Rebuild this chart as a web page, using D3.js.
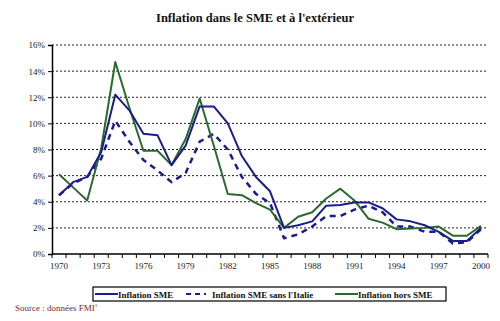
<!DOCTYPE html>
<html>
<head>
<meta charset="utf-8">
<script src="https://cdn.jsdelivr.net/npm/d3@7"></script>
<style>
html,body{margin:0;padding:0;background:#fff;}
svg{display:block;font-family:"Liberation Serif","DejaVu Serif",serif;}
</style>
</head>
<body>
<svg id="chart" width="500" height="321"></svg>
<script>
const years = d3.range(1970, 2001);
const tickYears = [1970,1973,1976,1979,1982,1985,1988,1991,1994,1997,2000];
const yTicks = [0,2,4,6,8,10,12,14,16];
const seriesNames = ["Inflation SME","Inflation SME sans l'Italie","Inflation hors SME"];
const inflationSME = [4.5,5.5,5.9,7.8,12.2,11.0,9.2,9.1,6.8,8.3, 11.3,11.3,10.0,7.5,5.9,4.8,2.0,2.2,2.5,3.7, 3.75,3.95,3.95,3.5,2.65,2.5,2.2,1.7,1.0,1.0, 2.0];
const inflationSansItalie = [4.5,5.4,5.9,7.3,10.2,8.6,7.2,6.4,5.5,6.2, 8.6,9.2,8.0,5.9,4.6,3.9,1.2,1.5,2.1,2.9, 2.9,3.4,3.7,3.2,2.1,2.1,1.7,1.7,0.8,0.9, 1.9];
const inflationHorsSME = [6.1,5.1,4.1,8.1,14.7,11.2,7.9,7.9,6.8,8.8, 11.9,8.3,4.6,4.5,3.9,3.4,2.0,2.85,3.2,4.25, 5.0,4.1,2.7,2.4,1.9,1.95,2.0,2.1,1.4,1.4, 2.15];

const svg = d3.select("#chart");
const mLeft = 52, mRight = 488, mTop = 45, mBottom = 254;

const x = d3.scalePoint().domain(years).range([mLeft, mRight]).padding(0.5);
const y = d3.scaleLinear().domain([0, 16]).range([mBottom, mTop]);

// title
svg.append("text").attr("x", 255).attr("y", 22).attr("text-anchor", "middle")
  .style("font-weight", "bold").style("font-size", "12.5px").attr("fill", "#111")
  .text("Inflation dans le SME et à l'extérieur");

// gridlines
svg.append("g").selectAll("line").data(yTicks.filter(d => d > 0)).join("line")
  .attr("x1", mLeft).attr("x2", mRight)
  .attr("y1", d => y(d)).attr("y2", d => y(d))
  .attr("stroke", "#222").attr("stroke-width", 1).attr("stroke-dasharray", "2,2");

// y axis
const yAxis = svg.append("g").attr("transform", `translate(${mLeft},0)`)
  .call(d3.axisLeft(y).tickValues(yTicks).tickFormat(d => d + "%").tickSize(4).tickPadding(3));
yAxis.select(".domain").attr("stroke", "#000").attr("stroke-width", 1.5);
yAxis.selectAll("text").style("font-size", "9px").attr("fill", "#222").style("font-family", "Liberation Serif, serif");

// x axis
const step = x.step();
const xAxisG = svg.append("g").attr("transform", `translate(0,${mBottom})`);
xAxisG.append("line").attr("x1", mLeft).attr("x2", mRight).attr("stroke", "#000").attr("stroke-width", 1.5);
xAxisG.selectAll("line.tk").data(d3.range(years.length + 1)).join("line").attr("class", "tk")
  .attr("x1", i => mLeft + i * step).attr("x2", i => mLeft + i * step)
  .attr("y1", 0).attr("y2", 4).attr("stroke", "#000");
xAxisG.selectAll("text").data(tickYears).join("text")
  .attr("x", d => x(d)).attr("y", 15).attr("text-anchor", "middle")
  .style("font-size", "9px").attr("fill", "#222").text(d => d);

// lines
const line = d3.line().x((d, i) => x(years[i])).y(d => y(d));
const cfg = [
  {data: inflationSansItalie, color: "#1c1c8c", width: 2.5, dash: "6,5"},
  {data: inflationHorsSME, color: "#2b6a2f", width: 2, dash: null},
  {data: inflationSME, color: "#1c1c8c", width: 2, dash: null}
];
cfg.forEach(c => {
  svg.append("path").datum(c.data).attr("d", line).attr("fill", "none")
    .attr("stroke", c.color).attr("stroke-width", c.width)
    .attr("stroke-dasharray", c.dash).attr("stroke-linejoin", "round");
});

// legend
const lg = svg.append("g");
lg.append("rect").attr("x", 93).attr("y", 287).attr("width", 353).attr("height", 14)
  .attr("fill", "#fff").attr("stroke", "#000").attr("stroke-width", 1.2);
const legItems = [
  {name: seriesNames[0], x1: 95, x2: 118, tx: 118, color: "#1c1c8c", dash: null},
  {name: seriesNames[1], x1: 186, x2: 206, tx: 212, color: "#1c1c8c", dash: "5,4"},
  {name: seriesNames[2], x1: 335, x2: 358, tx: 358, color: "#2b6a2f", dash: null}
];
legItems.forEach(it => {
  lg.append("line").attr("x1", it.x1).attr("x2", it.x2).attr("y1", 294).attr("y2", 294)
    .attr("stroke", it.color).attr("stroke-width", 2).attr("stroke-dasharray", it.dash);
  lg.append("text").attr("x", it.tx).attr("y", 297.5).style("font-size", "9px")
    .style("font-weight", "bold").attr("fill", "#111").text(it.name);
});

// source
const src = svg.append("text").attr("x", 15).attr("y", 311).style("font-size", "9px").attr("fill", "#7a1f2b");
src.append("tspan").text("Source : données FMI");
src.append("tspan").attr("dy", -4).style("font-size", "5px").text("3");
</script>
</body>
</html>
